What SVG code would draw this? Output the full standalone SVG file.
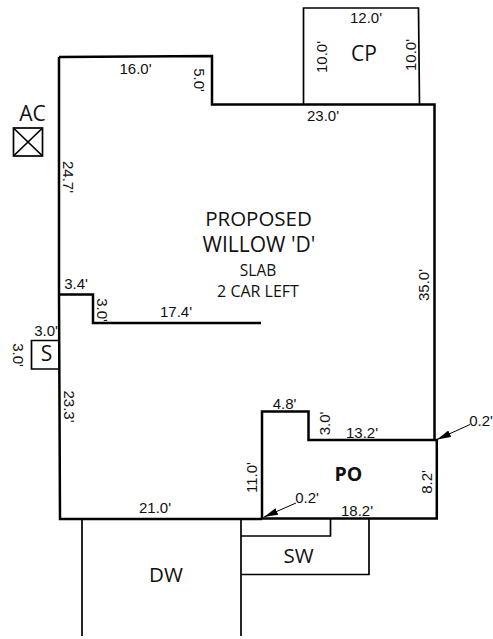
<svg xmlns="http://www.w3.org/2000/svg" width="493" height="639" viewBox="0 0 493 639">
<style>
.w{fill:none;stroke:#000;stroke-width:2.5;stroke-linejoin:miter}
.t{fill:none;stroke:#000;stroke-width:1.7}
.d{font-family:"Liberation Sans",Arial,sans-serif;font-size:15px;fill:#111;text-anchor:middle}
.l{font-family:"Open Sans","Noto Sans",sans-serif;fill:#111;text-anchor:middle}
</style>
<defs><marker id="ah" markerWidth="14" markerHeight="7" refX="14" refY="3.500" orient="auto" markerUnits="userSpaceOnUse"><path d="M0 0L14 3.500L0 7Z" fill="#000"/></marker></defs>
<rect width="493" height="639" fill="#fff"/>
<g id="connectors">
<path class="w" d="M59 57L212 56V104.500H434.500V440"/>
<path class="w" d="M59 57V295L60 519H262"/>
<path class="w" d="M59 294.500H93V323H261"/>
<path class="w" d="M262 518.500V411.500H308.500V440H436.800V518.500H262"/>
<path class="t" d="M303.500 104V8H418.500L419.500 104"/>
<path class="t" d="M82 519V636M241 518V636"/>
<path class="t" d="M241 536H330.500V518M241 574.500H369V518"/>
<path fill="none" stroke="#000" stroke-width="1" marker-end="url(#ah)" d="M470 424.500L437 439.500"/>
<path fill="none" stroke="#000" stroke-width="1" marker-end="url(#ah)" d="M296 503L264 517"/>
</g>
<g id="ac"><rect class="t" x="13.500" y="128" width="29" height="28"/><path class="t" d="M13.500 128L42.500 156M42.500 128L13.500 156"/><text class="l" x="32.500" y="121" font-size="21">AC</text></g>
<g id="s"><path class="t" d="M60 340.500H31.500V369H60"/><text class="l" x="46.500" y="361" font-size="21">S</text></g>
<g id="cp"><text class="l" x="364" y="61" font-size="21">CP</text></g>
<g id="house"><text class="l" x="258.500" y="226" font-size="20.500">PROPOSED</text><text class="l" x="259" y="252" font-size="21">WILLOW 'D'</text><text class="l" x="258" y="276" font-size="15.500">SLAB</text><text class="l" x="258" y="297" font-size="16">2 CAR LEFT</text></g>
<g id="po"><text class="l" x="348.500" y="481" font-size="19.500" font-weight="700">PO</text></g>
<g id="sw"><text class="l" x="298.500" y="563" font-size="20.500">SW</text></g>
<g id="dw"><text class="l" x="166" y="582" font-size="20.500">DW</text></g>
<g id="dims">
<text class="d" x="135.500" y="74">16.0'</text>
<text class="d" transform="translate(194,80) rotate(90)">5.0'</text>
<text class="d" x="323" y="121">23.0'</text>
<text class="d" x="366" y="23">12.0'</text>
<text class="d" transform="translate(327,57) rotate(-90)">10.0'</text>
<text class="d" transform="translate(416,55) rotate(-90)">10.0'</text>
<text class="d" transform="translate(63,177) rotate(90)">24.7'</text>
<text class="d" x="76" y="289">3.4'</text>
<text class="d" transform="translate(97,310) rotate(90)">3.0'</text>
<text class="d" x="176" y="317">17.4'</text>
<text class="d" x="46" y="336">3.0'</text>
<text class="d" transform="translate(13,355) rotate(90)">3.0'</text>
<text class="d" transform="translate(64,406.500) rotate(90)">23.3'</text>
<text class="d" transform="translate(429,285) rotate(-90)">35.0'</text>
<text class="d" x="284.500" y="409">4.8'</text>
<text class="d" transform="translate(330,423.500) rotate(-90)">3.0'</text>
<text class="d" x="362" y="438">13.2'</text>
<text class="d" transform="translate(432,482) rotate(-90)">8.2'</text>
<text class="d" transform="translate(257,477.500) rotate(-90)">11.0'</text>
<text class="d" x="481" y="426">0.2'</text>
<text class="d" x="307" y="503">0.2'</text>
<text class="d" x="357" y="516">18.2'</text>
<text class="d" x="155" y="513">21.0'</text>
</g>
</svg>
